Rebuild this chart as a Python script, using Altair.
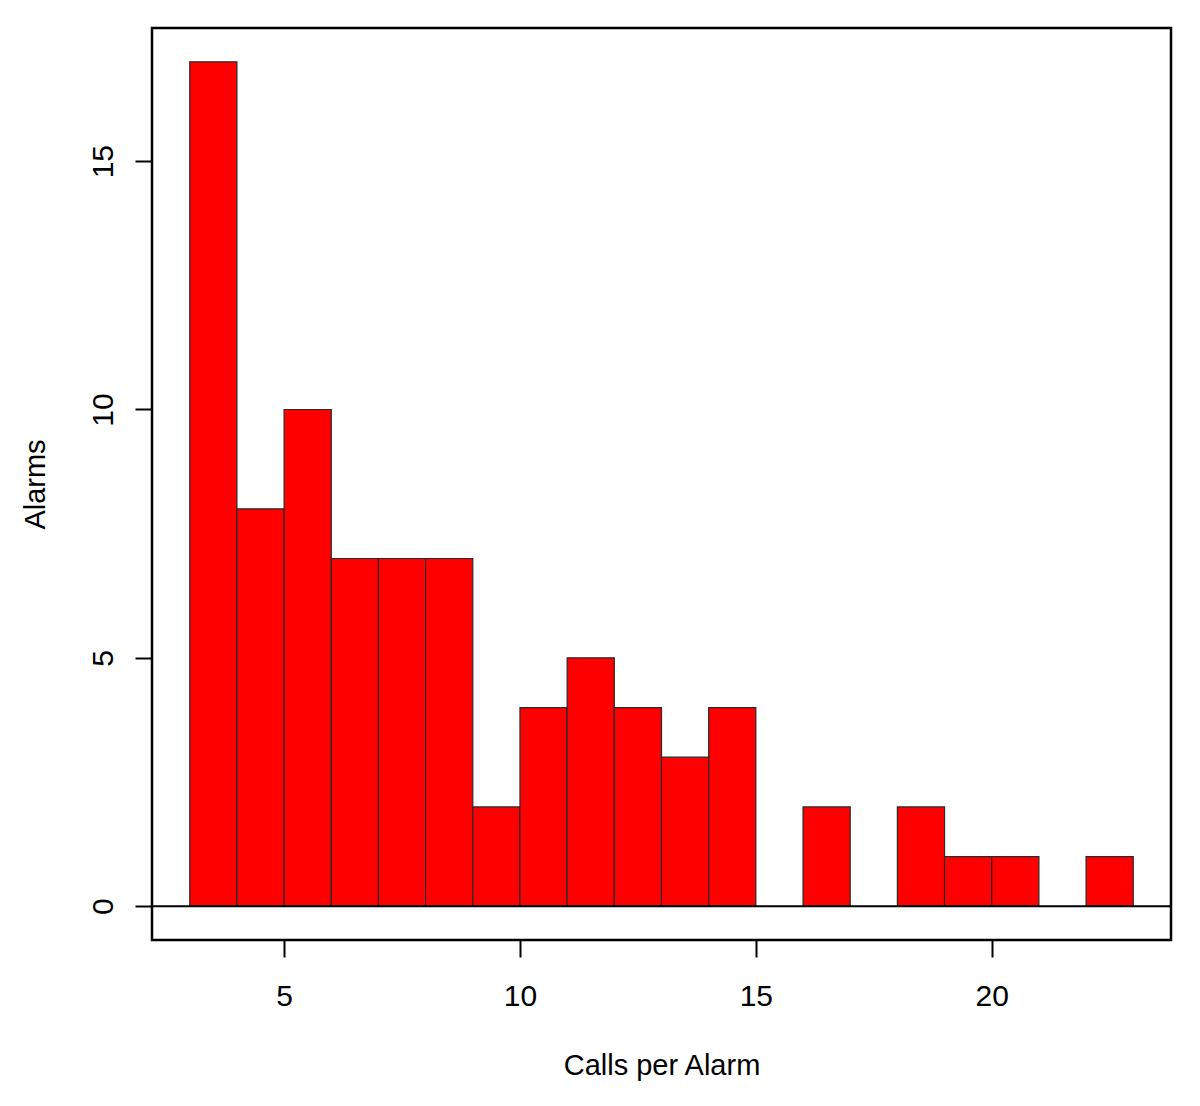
import altair as alt
import pandas as pd

bin_starts = [3, 4, 5, 6, 7, 8, 9, 10, 11, 12, 13, 14, 15, 16, 17, 18, 19, 20, 21, 22]
counts = [17, 8, 10, 7, 7, 7, 2, 4, 5, 4, 3, 4, 0, 2, 0, 2, 1, 1, 0, 1]
x_ticks = [5, 10, 15, 20]
y_ticks = [0, 5, 10, 15]

df = pd.DataFrame({"start": bin_starts, "end": [b + 1 for b in bin_starts], "count": counts})
df = df[df["count"] > 0]

W, H = 1019, 912
FONT = "Liberation Sans"

xscale = alt.Scale(domain=[2.2, 23.8], nice=False, zero=False)
yscale = alt.Scale(domain=[-0.68, 17.68], nice=False, zero=False)

bars = alt.Chart(df).mark_rect(fill="#ff0000", stroke="#2a2a2a", strokeWidth=1.2).encode(
    x=alt.X("start:Q", scale=xscale,
            axis=alt.Axis(values=x_ticks, title="Calls per Alarm", domain=False, grid=False,
                          tickSize=17, tickWidth=2, tickColor="black",
                          labelFontSize=30, labelFont=FONT, labelColor="black", labelPadding=24,
                          titleFontSize=29, titleFont=FONT, titleColor="black",
                          titleFontWeight="normal", titlePadding=40)),
    x2="end:Q",
    y=alt.Y("count:Q", scale=yscale,
            axis=alt.Axis(values=y_ticks, title="Alarms", domain=False, grid=False,
                          tickSize=17, tickWidth=2, tickColor="black",
                          labelFontSize=30, labelFont=FONT, labelColor="black", labelPadding=17,
                          labelAngle=270, labelAlign="center", labelBaseline="bottom",
                          titleFontSize=29, titleFont=FONT, titleColor="black",
                          titleFontWeight="normal", titlePadding=38)),
    y2=alt.datum(0),
)

base = alt.Chart(pd.DataFrame({"y": [0]})).mark_rule(color="black", strokeWidth=2).encode(
    y=alt.Y("y:Q", scale=yscale),
    x=alt.value(0),
    x2=alt.value(W),
)

chart = alt.layer(bars, base).properties(
    width=W, height=H,
    background="white",
    autosize=alt.AutoSizeParams(type="none"),
    padding={"left": 144, "top": 20, "right": 10, "bottom": 150},
).configure_view(stroke="black", strokeWidth=2.5)

chart.save("out.html", embed_options={"renderer": "svg", "actions": False})
